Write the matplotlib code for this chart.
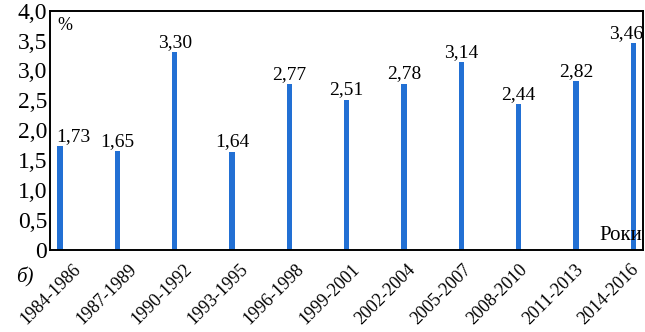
import matplotlib
matplotlib.use('Agg')
import matplotlib.pyplot as plt
import matplotlib.transforms as mtransforms

# data
periods = ['1984-1986', '1987-1989', '1990-1992', '1993-1995', '1996-1998', '1999-2001',
           '2002-2004', '2005-2007', '2008-2010', '2011-2013', '2014-2016']
values = [1.73, 1.65, 3.30, 1.64, 2.77, 2.51, 2.78, 3.14, 2.44, 2.82, 3.46]
yticks = [0, 0.5, 1.0, 1.5, 2.0, 2.5, 3.0, 3.5, 4.0]
ytick_labels = ['0', '0,5', '1,0', '1,5', '2,0', '2,5', '3,0', '3,5', '4,0']

plt.rcParams['font.family'] = ['Liberation Serif', 'DejaVu Serif']

fig = plt.figure(figsize=(6.45, 3.32), dpi=100)
ax = fig.add_axes([0.0775, 0.248, 0.92, 0.72])

x = range(len(periods))
ax.bar(x, values, width=0.09, color='#2270d4')
last = len(values) - 1
for i, v in enumerate(values):
    txt = f'{v:.2f}'.replace('.', ',')
    if i == 0:
        ax.text(i - 0.06, v + 0.02, txt, ha='left', va='bottom', fontsize=14)
    elif i == last:
        ax.text(i + 0.17, v + 0.02, txt, ha='right', va='bottom', fontsize=14)
    else:
        ax.text(i, v + 0.02, txt, ha='center', va='bottom', fontsize=14)

ax.set_xlim(-0.175, len(periods) - 1 + 0.175)
ax.set_ylim(0, 4.0)
ax.set_yticks(yticks)
ax.set_yticklabels(ytick_labels, fontsize=17)
ax.set_xticks(list(x))
ax.set_xticklabels(periods, rotation=45, ha='right', va='top', rotation_mode='anchor', fontsize=13)
ax.tick_params(axis='both', length=0, pad=2)
ax.tick_params(axis='x', pad=8)
# labels in the source drift slightly left relative to the bars
for i, lab in enumerate(ax.get_xticklabels()):
    dx = (12 - 1.5 * i) / 100
    lab.set_transform(lab.get_transform() + mtransforms.ScaledTranslation(dx, 0, fig.dpi_scale_trans))
for s in ax.spines.values():
    s.set_linewidth(1.4)

ax.text(0.012, 0.975, '%', transform=ax.transAxes, ha='left', va='top', fontsize=13)
ax.text(0.998, 0.02, 'Роки', transform=ax.transAxes, ha='right', va='bottom', fontsize=15)
fig.text(0.025, 0.165, 'б)', fontsize=15, style='italic', ha='left', va='center')

fig.savefig('out.png', dpi=100)
